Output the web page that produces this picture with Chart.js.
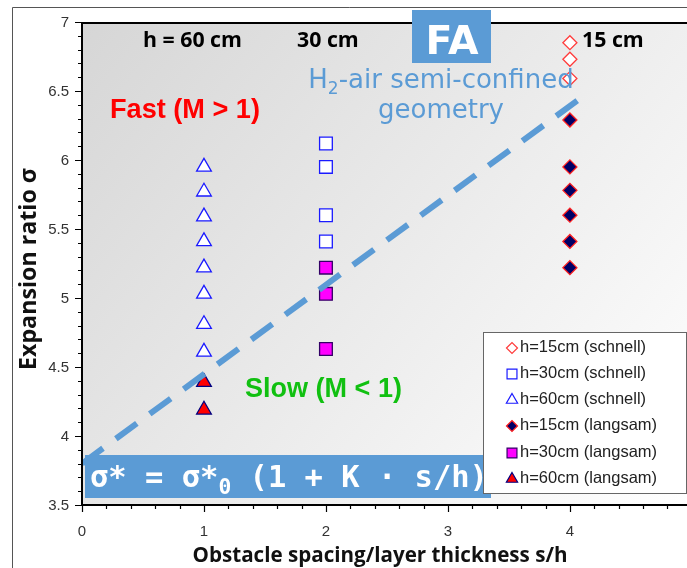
<!DOCTYPE html>
<html>
<head>
<meta charset="utf-8">
<script src="https://cdn.jsdelivr.net/npm/chart.js@4.4.1/dist/chart.umd.min.js"></script>
<style>
  html, body { margin: 0; padding: 0; background: #fff; }
  #wrap { width: 687px; height: 568px; }
</style>
</head>
<body>
<div id="wrap"><canvas id="chart" width="687" height="568"></canvas></div>
<script>
// axis ticks
const xTickLabels = ['0', '1', '2', '3', '4']
const yTickLabels = ['3.5', '4', '4.5', '5', '5.5', '6', '6.5', '7']

// series: label, s/h position, expansion ratios
const seriesLabels = ['h=15cm (schnell)', 'h=30cm (schnell)', 'h=60cm (schnell)',
                      'h=15cm (langsam)', 'h=30cm (langsam)', 'h=60cm (langsam)']
const seriesX = [4, 2, 1, 4, 2, 1]
const fast15 = [6.85, 6.73, 6.59]
const fast30 = [6.12, 5.95, 5.60, 5.41]
const fast60 = [5.95, 5.77, 5.59, 5.41, 5.22, 5.03, 4.81, 4.61]
const slow15 = [6.29, 5.95, 5.78, 5.60, 5.41, 5.22]
const slow30 = [5.22, 5.03, 4.63]
const slow60 = [4.39, 4.19]

// dashed correlation line sigma* = sigma*0 (1 + K s/h)
const fitX = [0, 4.06]
const fitY = [3.80, 6.43]

const seriesValues = [fast15, fast30, fast60, slow15, slow30, slow60]
const styles = [
    { pointStyle: 'rectRot', radius: 7, legendRadius: 5.5, backgroundColor: '#ffffff', borderColor: '#ff3b3b' },
    { pointStyle: 'rect', radius: 9, legendRadius: 7, backgroundColor: '#ffffff', borderColor: '#1a1aff' },
    { pointStyle: 'triangle', radius: 8.5, legendRadius: 6.5, backgroundColor: '#ffffff', borderColor: '#1a1aff' },
    { pointStyle: 'rectRot', radius: 7, legendRadius: 5.5, backgroundColor: '#000066', borderColor: '#ff2020' },
    { pointStyle: 'rect', radius: 9, legendRadius: 7, backgroundColor: '#ff00ff', borderColor: '#330066' },
    { pointStyle: 'triangle', radius: 8.5, legendRadius: 6.5, backgroundColor: '#ff0000', borderColor: '#000080' },
]

const pointSets = seriesValues.map((vals, i) => ({
    label: seriesLabels[i],
    data: vals.map(v => ({ x: seriesX[i], y: v })),
    pointStyle: styles[i].pointStyle,
    pointRadius: styles[i].radius,
    pointBackgroundColor: styles[i].backgroundColor,
    pointBorderColor: styles[i].borderColor,
    pointBorderWidth: 1.3,
    legendRadius: styles[i].legendRadius,
    showLine: false,
    order: 1,
}))

const lineSet = {
    label: 'fit',
    data: fitX.map((x, i) => ({ x: x, y: fitY[i] })),
    showLine: true,
    borderColor: '#5b9bd5',
    borderWidth: 6,
    borderDash: [26, 16],
    borderCapStyle: 'butt',
    pointRadius: 0,
    order: 0,
}

const fitFont = (ctx, text, weight, family, width) => {
    ctx.font = weight + ' 100px ' + family
    const size = 100 * width / ctx.measureText(text).width
    ctx.font = weight + ' ' + size.toFixed(2) + 'px ' + family
    return size
}

const decor = {
    id: 'decor',
    beforeDraw(chart) {
        const { ctx, chartArea: a } = chart
        ctx.save()
        ctx.fillStyle = '#ffffff'
        ctx.fillRect(0, 0, chart.width, chart.height)
        // outer frame
        ctx.strokeStyle = '#555'
        ctx.lineWidth = 1
        ctx.beginPath()
        ctx.moveTo(12.5, chart.height)
        ctx.lineTo(12.5, 7.5)
        ctx.lineTo(chart.width, 7.5)
        ctx.stroke()
        // plot background
        const g = ctx.createLinearGradient(a.left, a.top, a.right, a.bottom)
        g.addColorStop(0, '#d6d6d6')
        g.addColorStop(1, '#ffffff')
        ctx.fillStyle = g
        ctx.fillRect(a.left, a.top, a.right - a.left, a.bottom - a.top)
        ctx.restore()
    },
    afterDatasetsDraw(chart) {
        const { ctx, chartArea: a, scales: { x, y } } = chart
        ctx.save()

        // axes
        ctx.strokeStyle = '#000'
        ctx.lineWidth = 2
        ctx.beginPath()
        ctx.moveTo(a.right, a.top + 1)
        ctx.lineTo(a.left, a.top + 1)
        ctx.lineTo(a.left, a.bottom)
        ctx.lineTo(a.right, a.bottom)
        ctx.stroke()

        // ticks
        ctx.lineWidth = 1.2
        ctx.beginPath()
        for (let k = 0; k <= 35; k++) {
            const v = 3.5 + k * 0.1
            const py = Math.round(y.getPixelForValue(v)) + 0.5
            const len = k % 5 === 0 ? 7 : 4
            ctx.moveTo(a.left - len, py)
            ctx.lineTo(a.left, py)
        }
        for (let k = 0; k <= 24; k++) {
            const v = k * 0.2
            const px = Math.round(x.getPixelForValue(v)) + 0.5
            const len = k % 5 === 0 ? 7 : 4
            ctx.moveTo(px, a.bottom)
            ctx.lineTo(px, a.bottom + len)
        }
        ctx.stroke()

        // tick labels
        ctx.fillStyle = '#333'
        ctx.font = '15px "Liberation Sans", Arial, sans-serif'
        ctx.textAlign = 'right'
        ctx.textBaseline = 'middle'
        yTickLabels.forEach(t => ctx.fillText(t, 69, y.getPixelForValue(parseFloat(t)) + 1))
        ctx.textAlign = 'center'
        xTickLabels.forEach(t => ctx.fillText(t, x.getPixelForValue(parseFloat(t)), 532))

        // axis titles
        ctx.fillStyle = '#111'
        ctx.textBaseline = 'alphabetic'
        fitFont(ctx, 'Obstacle spacing/layer thickness s/h', 'bold', '"Open Sans"', 375)
        ctx.fillText('Obstacle spacing/layer thickness s/h', 380, 562)
        ctx.save()
        ctx.translate(36, 269)
        ctx.rotate(-Math.PI / 2)
        fitFont(ctx, 'Expansion ratio σ', 'bold', '"Open Sans"', 202)
        ctx.fillText('Expansion ratio σ', 0, 0)
        ctx.restore()

        // height labels
        ctx.fillStyle = '#000'
        ctx.textAlign = 'left'
        fitFont(ctx, 'h = 60 cm', 'bold', '"Open Sans"', 99)
        ctx.fillText('h = 60 cm', 143, 47)
        ctx.fillText('30 cm', 297, 47)
        ctx.fillText('15 cm', 582, 47)

        // FA box
        ctx.fillStyle = '#5b9bd5'
        ctx.fillRect(412, 10, 79, 53)
        ctx.fillStyle = '#ffffff'
        ctx.textAlign = 'center'
        fitFont(ctx, 'FA', 'bold', '"DejaVu Sans"', 53)
        ctx.fillText('FA', 452, 54)

        // geometry caption
        ctx.fillStyle = '#5b9bd5'
        ctx.textAlign = 'left'
        const fam = '"DejaVu Sans"'
        ctx.font = '26px ' + fam
        const wH = ctx.measureText('H').width
        const rest = '-air semi-confined'
        const wRest = ctx.measureText(rest).width
        ctx.font = '17px ' + fam
        const w2 = ctx.measureText('2').width
        const total = wH + w2 + wRest
        let cx = 441 - total / 2
        ctx.font = '26px ' + fam
        ctx.fillText('H', cx, 88)
        ctx.font = '17px ' + fam
        ctx.fillText('2', cx + wH, 94)
        ctx.font = '26px ' + fam
        ctx.fillText(rest, cx + wH + w2, 88)
        ctx.textAlign = 'center'
        ctx.fillText('geometry', 441, 118)

        // regime labels
        ctx.textAlign = 'left'
        ctx.fillStyle = '#ff0000'
        fitFont(ctx, 'Fast (M > 1)', 'bold', '"Liberation Sans", Arial', 150)
        ctx.fillText('Fast (M > 1)', 110, 118)
        ctx.fillStyle = '#11c011'
        fitFont(ctx, 'Slow (M < 1)', 'bold', '"Liberation Sans", Arial', 157)
        ctx.fillText('Slow (M < 1)', 245, 397)

        // formula box
        ctx.fillStyle = '#5b9bd5'
        ctx.fillRect(85, 455, 406, 43)
        ctx.fillStyle = '#ffffff'
        const mono = '"DejaVu Sans Mono"'
        ctx.font = 'bold 30px ' + mono
        const pA = 'σ* = σ*'
        const pB = ' (1 + K · s/h)'
        const wA = ctx.measureText(pA).width
        const wB = ctx.measureText(pB).width
        ctx.font = 'bold 21px ' + mono
        const w0 = ctx.measureText('0').width
        const sc = 398 / (wA + w0 + wB)
        cx = 90
        ctx.font = 'bold ' + (30 * sc).toFixed(2) + 'px ' + mono
        ctx.fillText(pA, cx, 487)
        ctx.font = 'bold ' + (21 * sc).toFixed(2) + 'px ' + mono
        ctx.fillText('0', cx + wA * sc, 494)
        ctx.font = 'bold ' + (30 * sc).toFixed(2) + 'px ' + mono
        ctx.fillText(pB, cx + (wA + w0) * sc, 487)

        // legend
        ctx.fillStyle = '#ffffff'
        ctx.fillRect(483, 332, 203, 161)
        ctx.strokeStyle = '#666'
        ctx.lineWidth = 1
        ctx.strokeRect(483.5, 332.5, 203, 161)
        ctx.font = '16.5px "Liberation Sans", Arial, sans-serif'
        ctx.textBaseline = 'middle'
        const rows = [347, 373, 399, 425, 452, 478]
        chart.data.datasets.filter(d => d.label !== 'fit').forEach((d, i) => {
            ctx.fillStyle = d.pointBackgroundColor
            ctx.strokeStyle = d.pointBorderColor
            ctx.lineWidth = 1.2
            Chart.helpers.drawPoint(ctx, { pointStyle: d.pointStyle, radius: d.legendRadius, borderWidth: 1.2, rotation: 0 }, 512, rows[i] + 1)
            ctx.fillStyle = '#222'
            ctx.fillText(d.label, 520, rows[i])
        })

        ctx.restore()
    }
}

const config = {
    type: 'scatter',
    data: { datasets: [lineSet, ...pointSets] },
    options: {
        responsive: false,
        animation: false,
        layout: { autoPadding: false, padding: { left: 82, top: 22, right: 0, bottom: 63 } },
        scales: {
            x: { type: 'linear', min: 0, max: 4.96, display: false },
            y: { type: 'linear', min: 3.5, max: 7, display: false },
        },
        plugins: {
            legend: { display: false },
            tooltip: { enabled: false },
        },
    },
    plugins: [decor],
}

const chart = new Chart(document.getElementById('chart').getContext('2d'), config)
</script>
</body>
</html>
